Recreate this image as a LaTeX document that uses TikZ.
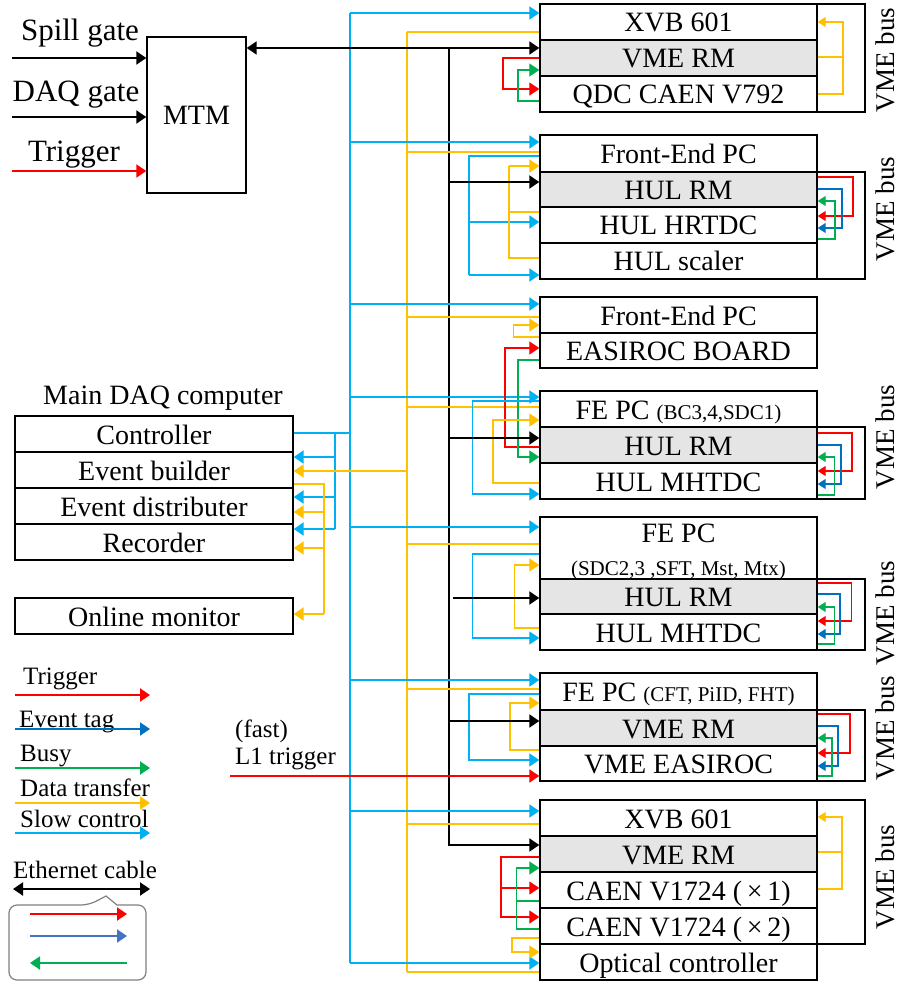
\documentclass[tikz,border=0pt]{standalone}
\usepackage{fontspec}
\setmainfont{Liberation Serif}
\usetikzlibrary{arrows.meta}
\definecolor{cred}{HTML}{FF0000}
\definecolor{ctag}{HTML}{0070C0}
\definecolor{cbusy}{HTML}{00B050}
\definecolor{cdat}{HTML}{FFC000}
\definecolor{cslow}{HTML}{00B0F0}
\definecolor{cmid}{HTML}{4472C4}
\definecolor{cgrayb}{HTML}{808080}
\newcommand{\myfs}[1]{\fontsize{#1}{#1}\selectfont}
\begin{document}
\begin{tikzpicture}[x=1pt,y=-1pt,
 rowbox/.style={draw, line width=1.4pt, minimum width=277pt, minimum height=36pt, inner sep=0pt, text height=20pt, text depth=0pt, font=\myfs{28}},
 rmbox/.style={rowbox, fill=black!10},
 dbox/.style={rowbox, minimum width=278pt},
 busbox/.style={draw, line width=1.4pt, minimum width=48pt, inner sep=0pt},
 vtxt/.style={rotate=90, font=\myfs{27}, inner sep=0pt, text height=18pt, text depth=0pt},
 lg/.style={font=\myfs{25}, inner sep=0pt, anchor=base west},
 arr/.style={->, >={Triangle[length=10pt,width=13pt]}},
 sarr/.style={->, >={Triangle[length=8pt,width=10pt]}},
 darr/.style={<->, >={Triangle[length=10pt,width=13pt]}},
 w1/.style={line width=1.3pt},
 w2/.style={line width=2pt},
 cr/.style={draw=cred},
 ct/.style={draw=ctag},
 cg/.style={draw=cbusy},
 cy/.style={draw=cdat},
 cs/.style={draw=cslow},
 blk/.style={draw=black, line width=2pt}]
\useasboundingbox (0,0) rectangle (899,981);
% ---------- MTM ----------
\node[draw, line width=1.4pt, minimum width=99pt, minimum height=156pt, inner sep=0pt, text height=20pt, text depth=0pt, font=\myfs{28}] (mtm) at (196.5,115) {MTM};
\node[font=\myfs{31}, anchor=base, inner sep=0pt] (lsg) at (80,41) {Spill gate};
\node[font=\myfs{31}, anchor=base, inner sep=0pt] (ldg) at (76,102) {DAQ gate};
\node[font=\myfs{31}, anchor=base, inner sep=0pt] (ltr) at (74,162) {Trigger};
\coordinate (sg0) at (12,58);
\coordinate (dg0) at (12,117);
\coordinate (tr0) at (12,171);
\draw[blk, arr] (sg0) -- (mtm.west |- sg0);
\draw[blk, arr] (dg0) -- (mtm.west |- dg0);
\draw[cr, w2, arr] (tr0) -- (mtm.west |- tr0);
% ---------- Block 1 ----------
\node[busbox, minimum height=108pt] (v1) at (841,58) {};
\node[rowbox] (b1a) at (678.5,22) {XVB 601};
\node[rmbox] (b1b) at (678.5,58) {VME RM};
\node[rowbox] (b1c) at (678.5,94) {QDC CAEN V792};
\node[vtxt] (t1) at (885.5,60) {VME bus};
% ---------- Block 2 ----------
\node[busbox, minimum height=107pt] (v2) at (841,225.5) {};
\node[rowbox, minimum height=37pt] (b2a) at (678.5,153.5) {Front-End PC};
\node[rmbox, minimum height=35pt] (b2b) at (678.5,189.5) {HUL RM};
\node[rowbox] (b2c) at (678.5,225) {HUL HRTDC};
\node[rowbox] (b2d) at (678.5,261) {HUL scaler};
\node[vtxt] (t2) at (885.5,209) {VME bus};
% ---------- Block 3 ----------
\node[rowbox] (b3a) at (678.5,315) {Front-End PC};
\node[rowbox, minimum height=35pt] (b3b) at (678.5,350.5) {EASIROC BOARD};
% ---------- Block 4 ----------
\node[busbox, minimum height=72pt] (v4) at (841,463) {};
\node[rowbox] (b4a) at (678.5,409) {FE PC {\myfs{21}(BC3,4,SDC1)}};
\node[rmbox] (b4b) at (678.5,445) {HUL RM};
\node[rowbox] (b4c) at (678.5,481) {HUL MHTDC};
\node[vtxt] (t4) at (885.5,437) {VME bus};
% ---------- Block 5 ----------
\node[busbox, minimum height=71pt] (v5) at (841,614.5) {};
\node[rowbox, minimum height=62pt] (b5a) at (678.5,548) {};
\node[font=\myfs{28}, anchor=base, inner sep=0pt] (b5t1) at (678.5,542) {FE PC};
\node[font=\myfs{21}, anchor=base, inner sep=0pt] (b5t2) at (678.5,575) {(SDC2,3 ,SFT, Mst, Mtx)};
\node[rmbox, minimum height=35pt] (b5b) at (678.5,596.5) {HUL RM};
\node[rowbox] (b5c) at (678.5,632) {HUL MHTDC};
\node[vtxt] (t5) at (885.5,613) {VME bus};
% ---------- Block 6 ----------
\node[busbox, minimum height=71pt] (v6) at (841,745.5) {};
\node[rowbox, minimum height=37pt] (b6a) at (678.5,691.5) {FE PC {\myfs{21}(CFT, PiID, FHT)}};
\node[rmbox] (b6b) at (678.5,728) {VME RM};
\node[rowbox, minimum height=35pt] (b6c) at (678.5,763.5) {VME EASIROC};
\node[vtxt] (t6) at (885.5,728) {VME bus};
% ---------- Block 7 ----------
\node[busbox, minimum height=144pt] (v7) at (841,872) {};
\node[rowbox] (b7a) at (678.5,818) {XVB 601};
\node[rmbox] (b7b) at (678.5,854) {VME RM};
\node[rowbox] (b7c) at (678.5,890) {CAEN V1724 (\,×\,1)};
\node[rowbox] (b7d) at (678.5,926) {CAEN V1724 (\,×\,2)};
\node[rowbox] (b7e) at (678.5,962) {Optical controller};
\node[vtxt] (t7) at (885.5,877) {VME bus};
% ---------- Main DAQ ----------
\node[font=\myfs{28}, anchor=base, inner sep=0pt] (mtitle) at (163,404) {Main DAQ computer};
\node[dbox] (ctrl) at (154,434) {Controller};
\node[dbox] (evb) at (154,470) {Event builder};
\node[dbox] (evd) at (154,506) {Event distributer};
\node[dbox] (rec) at (154,542) {Recorder};
\node[dbox] (onl) at (154,616) {Online monitor};
% ---------- buses ----------
\coordinate (sb) at (350,13);
\coordinate (yb) at (407,32);
\coordinate (kb) at (449,48);
\draw[cs, line width=1.6pt] (sb) -- (350,963);
\draw[cy, w1] (yb) -- (407,972);
\draw[blk, darr] (mtm.east |- kb) -- (b1b.west |- kb);
\draw[blk, arr] (kb) |- (b7b.west |- 0,845);
% slow control arrows from bus
\draw[cs, w2, arr] (sb) -- (b1a.west |- sb);
\draw[cs, w2, arr] (sb |- 0,142) -- (b2a.west |- 0,142);
\draw[cs, w2, arr] (sb |- 0,304) -- (b3a.west |- 0,304);
\draw[cs, w2, arr] (sb |- 0,397) -- (b4a.west |- 0,397);
\draw[cs, w2, arr] (sb |- 0,527) -- (b5a.west |- 0,527);
\draw[cs, w2, arr] (sb |- 0,680) -- (b6a.west |- 0,680);
\draw[cs, w2, arr] (sb |- 0,811) -- (b7a.west |- 0,811);
\draw[cs, w2, arr] (sb |- 0,963) -- (b7e.west |- 0,963);
% data lines to yellow bus
\draw[cy, w1] (b1a.west |- yb) -- (yb);
\draw[cy, w1] (b2a.west |- 0,152) -- (yb |- 0,152);
\draw[cy, w1] (b3a.west |- 0,317) -- (yb |- 0,317);
\draw[cy, w1] (b4a.west |- 0,407) -- (yb |- 0,407);
\draw[cy, w1] (b5a.west |- 0,544) -- (yb |- 0,544);
\draw[cy, w1] (b6a.west |- 0,689) -- (yb |- 0,689);
\draw[cy, w1] (b7a.west |- 0,824) -- (yb |- 0,824);
\draw[cy, w1] (b7e.west |- 0,972) -- (yb |- 0,972);
% ---------- Main DAQ connections ----------
\draw[cs, w1] (ctrl.east |- 0,433) -- (sb |- 0,433);
\draw[cs, w1] (335,433) -- (335,529);
\draw[cs, w2, arr] (335,457) -- (evb.east |- 0,457);
\draw[cs, w2, arr] (335,497) -- (evd.east |- 0,497);
\draw[cs, w2, arr] (335,529) -- (rec.east |- 0,529);
\draw[cy, w2, arr] (yb |- 0,471) -- (evb.east |- 0,471);
\draw[cy, w1] (evb.east |- 0,484) -| (324,614);
\draw[cy, w2, arr] (324,512) -- (evd.east |- 0,512);
\draw[cy, w2, arr] (324,548) -- (rec.east |- 0,548);
\draw[cy, w2, arr] (324,614) -- (onl.east |- 0,614);
% ---------- Block 1 local ----------
\draw[cr, w1, arr] (b1b.west |- 0,58) -| (503,89) -- (b1c.west |- 0,89);
\draw[cg, w1, arr] (b1c.west |- 0,101) -| (518,70) -- (b1b.west |- 0,70);
\draw[cy, w1, sarr] (b1c.east |- 0,94) -| (843,22) -- (b1a.east |- 0,22);
\draw[cy, w1] (b1b.east |- 0,57) -- (843,57);
% ---------- Block 2 local ----------
\draw[cs, w1] (b2a.west |- 0,156) -| (469,275);
\draw[cs, w2, arr] (469,222) -- (b2c.west |- 0,222);
\draw[cs, w2, arr] (469,275) -- (b2d.west |- 0,275);
\draw[cy, w1] (b2d.west |- 0,258) -| (509,166);
\draw[cy, w1] (b2c.west |- 0,212) -- (509,212);
\draw[cy, w2, arr] (509,166) -- (b2a.west |- 0,166);
\draw[blk, arr] (kb |- 0,182) -- (b2b.west |- 0,182);
\draw[cr, w1, sarr] (b2b.east |- 0,177) -| (853,216) -- (b2c.east |- 0,216);
\draw[ct, w1, sarr] (b2b.east |- 0,189) -| (842,228) -- (b2c.east |- 0,228);
\draw[cg, w1, sarr] (b2c.east |- 0,239) -| (835,201) -- (b2b.east |- 0,201);
% ---------- Block 3 local ----------
\draw[cy, w1, arr] (b3b.west |- 0,337) -| (513.6,325) -- (b3a.west |- 0,325);
\draw[cr, w1, arr] (b4b.west |- 0,447) -| (505,348) -- (b3b.west |- 0,348);
\draw[cg, w1, arr] (b3b.west |- 0,360) -| (518,457) -- (b4b.west |- 0,457);
% ---------- Block 4 local ----------
\draw[cs, w1, arr] (b4a.west |- 0,401) -| (472.6,494) -- (b4c.west |- 0,494);
\draw[cy, w1, arr] (b4c.west |- 0,483) -| (493,420) -- (b4a.west |- 0,420);
\draw[blk, arr] (kb |- 0,438) -- (b4b.west |- 0,438);
\draw[cr, w1, sarr] (b4b.east |- 0,433) -| (852,471) -- (b4c.east |- 0,471);
\draw[ct, w1, sarr] (b4b.east |- 0,445) -| (841,484) -- (b4c.east |- 0,484);
\draw[cg, w1, sarr] (b4c.east |- 0,495) -| (834.5,457) -- (b4b.east |- 0,457);
% ---------- Block 5 local ----------
\draw[cs, w1, arr] (b5a.west |- 0,554) -| (472.6,638) -- (b5c.west |- 0,638);
\draw[cy, w1, arr] (b5c.west |- 0,628) -| (514.7,565) -- (b5a.west |- 0,565);
\coordinate (k5) at (453,598);
\draw[blk, arr] (k5) -- (b5b.west |- k5);
\draw[cr, w1, sarr] (b5b.east |- 0,583) -| (851.6,621) -- (b5c.east |- 0,621);
\draw[ct, w1, sarr] (b5b.east |- 0,594) -| (840,634) -- (b5c.east |- 0,634);
\draw[cg, w1, sarr] (b5c.east |- 0,644) -| (834.5,607) -- (b5b.east |- 0,607);
% ---------- Block 6 local ----------
\draw[cs, w1, arr] (b6a.west |- 0,694) -| (469,760) -- (b6c.west |- 0,760);
\draw[cy, w1, arr] (b6c.west |- 0,750) -| (510,703) -- (b6a.west |- 0,703);
\draw[blk, arr] (kb |- 0,721) -- (b6b.west |- 0,721);
\coordinate (l1t) at (230,776);
\draw[cr, w2, arr] (l1t) -- (b6c.west |- l1t);
\draw[cr, w1, sarr] (b6b.east |- 0,714) -| (850,753) -- (b6c.east |- 0,753);
\draw[ct, w1, sarr] (b6b.east |- 0,726) -| (838,766) -- (b6c.east |- 0,766);
\draw[cg, w1, sarr] (b6c.east |- 0,776) -| (832,738) -- (b6b.east |- 0,738);
\node[lg] (fast) at (235,737) {(fast)};
\node[lg] (l1lab) at (235,764) {L1 trigger};
% ---------- Block 7 local ----------
\draw[cr, w1, arr] (b7b.west |- 0,857) -| (501,917) -- (b7d.west |- 0,917);
\draw[cr, w1, arr] (501,888) -- (b7c.west |- 0,888);
\draw[cg, w1, arr] (b7d.west |- 0,929) -| (516.5,868) -- (b7b.west |- 0,868);
\draw[cg, w1] (b7c.west |- 0,901) -- (516.5,901);
\draw[cy, w1, arr] (b7d.west |- 0,938) -| (512,952) -- (b7e.west |- 0,952);
\draw[cy, w1, sarr] (b7c.east |- 0,889) -| (842,817) -- (b7a.east |- 0,817);
\draw[cy, w1] (b7b.east |- 0,852) -- (842,852);
% ---------- Legend ----------
\node[lg] (lgt) at (23,684) {Trigger};
\node[lg] (lge) at (19,727) {Event tag};
\node[lg] (lgb) at (20,761) {Busy};
\node[lg] (lgd) at (20,796) {Data transfer};
\node[lg] (lgs) at (20,827) {Slow control};
\node[lg] (lgn) at (13,878) {Ethernet cable};
\coordinate (la1) at (15,695); \coordinate (lb1) at (150,695);
\coordinate (la2) at (15,729); \coordinate (lb2) at (150,729);
\coordinate (la3) at (15,768); \coordinate (lb3) at (150,768);
\coordinate (la4) at (15,803); \coordinate (lb4) at (150,803);
\coordinate (la5) at (15,833); \coordinate (lb5) at (150,833);
\coordinate (la6) at (13,889); \coordinate (lb6) at (150,889);
\draw[cr, w2, arr] (la1) -- (lb1);
\draw[ct, w2, arr] (la2) -- (lb2);
\draw[cg, w2, arr] (la3) -- (lb3);
\draw[cy, w2, arr] (la4) -- (lb4);
\draw[cs, w2, arr] (la5) -- (lb5);
\draw[blk, darr] (la6) -- (lb6);
\draw[draw=cgrayb, line width=1.2pt, rounded corners=8pt] (9,940) |- (89,905) [sharp corners] -- (106,896) -- (117,905) [rounded corners=8pt] -| (146,980) -| (9,940);
\coordinate (lc1) at (30,914); \coordinate (ld1) at (127,914);
\coordinate (lc2) at (30,936); \coordinate (ld2) at (127,936);
\coordinate (lc3) at (30,963); \coordinate (ld3) at (127,963);
\draw[cr, w2, arr] (lc1) -- (ld1);
\draw[draw=cmid, w2, arr] (lc2) -- (ld2);
\draw[cg, w2, arr] (ld3) -- (lc3);
\end{tikzpicture}
\end{document}
